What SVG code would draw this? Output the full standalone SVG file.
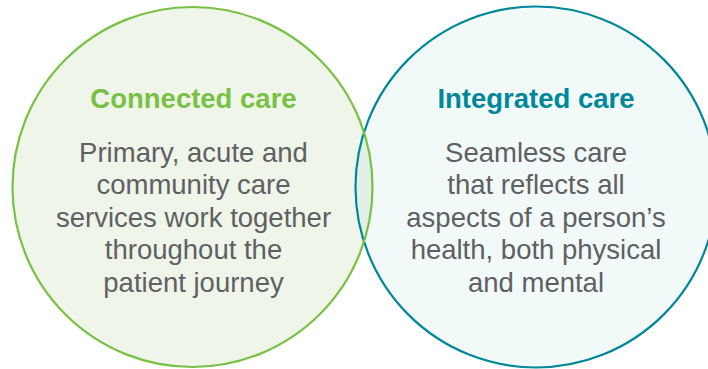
<svg xmlns="http://www.w3.org/2000/svg" width="708" height="369" viewBox="0 0 708 369">
  <style>
    .title { font-family: "Liberation Sans", Arial, sans-serif; font-weight: bold; font-size: 27.5px; text-anchor: middle; }
    .body { font-family: "Liberation Sans", Arial, sans-serif; font-size: 27.5px; fill: #5F6062; text-anchor: middle; }
  </style>
  <defs>
    <clipPath id="clipLeft">
      <circle cx="192.5" cy="187" r="180"/>
    </clipPath>
  </defs>
  <rect width="708" height="369" fill="#FFFFFF"/>
  <g id="fills">
    <circle cx="192.5" cy="187" r="180" fill="#EFF5E9"/>
    <circle cx="536" cy="187" r="180.5" fill="#F1FAF9"/>
    <circle cx="536" cy="187" r="180.5" fill="#E2F0E6" clip-path="url(#clipLeft)"/>
  </g>
  <g id="integrated-care">
    <circle cx="536" cy="187" r="180.5" fill="none" stroke="#00879A" stroke-width="2.2"/>
    <text class="title" x="536" y="108" fill="#00879A">Integrated care</text>
    <text class="body" x="536" y="161.5">Seamless care</text>
    <text class="body" x="536" y="194">that reflects all</text>
    <text class="body" x="536" y="226.5">aspects of a person’s</text>
    <text class="body" x="536" y="259">health, both physical</text>
    <text class="body" x="536" y="291.5">and mental</text>
  </g>
  <g id="connected-care">
    <circle cx="192.5" cy="187" r="180" fill="none" stroke="#78C145" stroke-width="2.2"/>
    <text class="title" x="193.5" y="108" fill="#78C145">Connected care</text>
    <text class="body" x="193.5" y="161.5">Primary, acute and</text>
    <text class="body" x="193.5" y="194">community care</text>
    <text class="body" x="193.5" y="226.5">services work together</text>
    <text class="body" x="193.5" y="259">throughout the</text>
    <text class="body" x="193.5" y="291.5">patient journey</text>
  </g>
  <g id="connectors"/>
</svg>
